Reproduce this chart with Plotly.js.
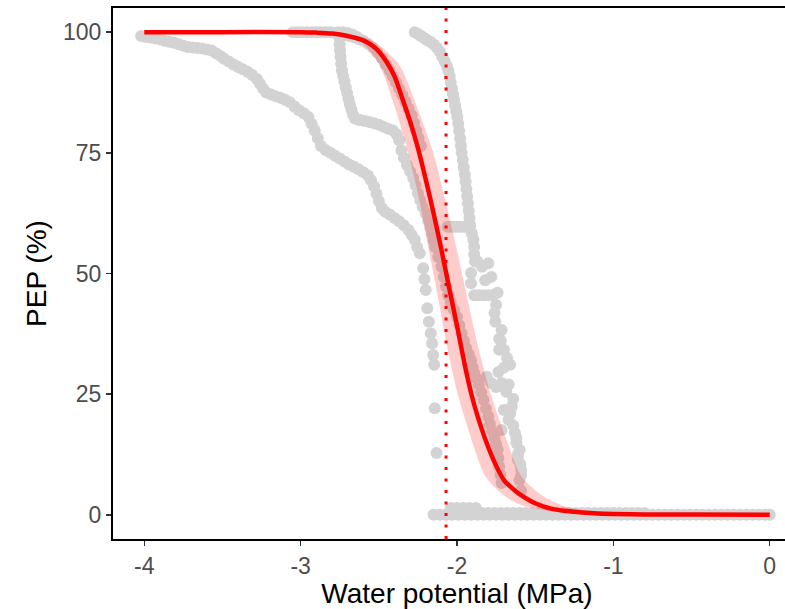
<!DOCTYPE html>
<html>
<head>
<meta charset="utf-8">
<script src="https://cdn.plot.ly/plotly-3.0.1.min.js"></script>
<style>
html,body{margin:0;padding:0;overflow:hidden;background:#fff;}
#chart{width:808px;height:609px;}
</style>
</head>
<body>
<div id="chart"></div>
<script>
// ---- axis ticks ----
const xTickVals = [-4, -3, -2, -1, 0];
const xTickText = ['-4', '-3', '-2', '-1', '0'];
const yTickVals = [0, 25, 50, 75, 100];
const yTickText = ['0', '25', '50', '75', '100'];

// ---- observed points (grey) ----
const aX = [-4.02,-3.99,-3.96,-3.93,-3.90,-3.87,-3.84,-3.81,-3.78,-3.75,-3.72,-3.69,-3.66,-3.63,-3.60,-3.57,-3.54,-3.51,-3.49,-3.46,-3.43,-3.40,-3.37,-3.34,-3.31,-3.28,-3.26,-3.24,-3.22,-3.19,-3.16,-3.13,-3.10,-3.07,-3.04,-3.01,-2.98,-2.95,-2.93,-2.91,-2.89,-2.87,-2.84,-2.81,-2.78,-2.75,-2.72,-2.69,-2.66,-2.63,-2.60,-2.57,-2.55,-2.53,-2.515,-2.50,-2.48,-2.46,-2.43,-2.40,-2.37,-2.34,-2.31,-2.29,-2.27,-2.255,-2.238,-2.216,-2.208,-2.20,-2.19,-2.18,-2.168,-2.159,-2.152,-2.146,-2.142,-2.131];
const aY = [99.2,99.0,98.9,98.7,98.5,98.2,98.0,97.8,97.5,97.2,96.9,96.8,96.7,96.6,96.4,96.2,95.6,95.0,94.5,93.9,93.3,92.8,92.3,91.8,91.1,90.3,89.3,88.3,87.5,87.1,86.7,86.4,86.0,85.5,84.6,83.8,83.2,82.4,81.0,79.6,78.0,76.4,75.6,75.0,74.4,73.8,73.2,72.6,72.1,71.6,71.0,70.3,69.3,68.0,66.5,65.0,63.5,62.8,62.2,61.5,60.8,60.0,59.0,58.0,57.0,55.5,54.2,51.1,48.8,46.6,42.8,40.0,37.6,35.5,33.1,31.1,22.1,12.8];

const bX = [-2.76,-2.73,-2.70,-2.67,-2.64,-2.752,-2.75,-2.748,-2.745,-2.741,-2.736,-2.728,-2.72,-2.712,-2.703,-2.694,-2.685,-2.675,-2.665,-2.652,-2.636,-2.62,-2.59,-2.56,-2.53,-2.50,-2.47,-2.44,-2.41,-2.385,-2.37,-2.355,-2.34,-2.32,-2.30,-2.28,-2.265,-2.25,-2.235,-2.22,-2.20,-2.185,-2.17,-2.16,-2.15,-2.14,-2.12,-2.10,-2.085,-2.07,-2.056,-2.04,-2.02,-2.00,-1.985,-1.97,-1.955,-1.94,-1.925,-1.91,-1.90,-1.89,-1.875,-1.86,-1.845,-1.83,-1.815,-1.80,-1.79,-1.775,-1.76,-1.75,-1.74,-1.735,-1.73,-1.722,-1.715];
const bY = [100,100,99.8,99.5,99.0,98.8,97.5,96.2,94.9,93.5,92.1,90.9,89.8,88.6,87.4,86.2,85.0,83.9,82.9,82.1,81.9,81.8,81.6,81.4,81.1,80.8,80.4,80.0,79.6,78.8,77.6,75.5,74.0,72.5,71.2,69.8,68.3,66.6,65.2,63.8,62.4,61.0,59.6,58.3,56.9,55.5,53.4,51.4,49.3,47.3,45.5,44.0,42.5,41.0,39.3,37.6,36.0,34.5,33.2,32.0,30.6,29.4,28.2,27.0,25.4,23.8,22.0,20.4,18.8,17.3,16.0,14.7,13.5,11.8,10.0,8.3,6.6];

const cX = [-2.27,-2.25,-2.23,-2.21,-2.19,-2.17,-2.15,-2.13,-2.11,-2.095,-2.08,-2.065,-2.055,-2.047,-2.04,-2.033,-2.026,-2.019,-2.012,-2.005,-1.998,-1.992,-1.986,-1.98,-1.975,-1.97,-1.963,-1.957,-1.95,-1.945,-1.94,-1.935,-1.93,-1.925,-1.92,-1.915,
  -2.06,-2.04,-2.02,-2.00,-1.98,-1.96,-1.94,
  -1.905,-1.895,-1.89,-1.89,-1.885,-1.91,-1.91,-1.87,-1.84,-1.82,-1.80,-1.78,-1.89,-1.86,-1.83,-1.80,-1.77,-1.74,-1.76,-1.75,-1.715,-1.73,-1.73,-1.70,-1.66,-1.735,-1.715,-1.685,-1.81,-1.78,-1.75,-1.70,-1.65,-1.67,-1.715,-1.63,-1.62,-1.60,-1.61,-1.59,-1.60,-1.59,
  -1.755,-1.72,-1.68,-1.70,-1.67,-1.64,-1.66,-1.64,-1.62,-1.61,-1.595,-1.59];
const cY = [100,99.6,99.2,98.8,98.3,98.0,97.5,96.8,96.0,95.0,94.0,93.0,92.0,90.8,89.6,88.4,87.2,86.0,84.8,83.6,82.4,81.0,79.5,78.0,76.5,75.0,73.5,72.0,70.5,69.0,67.5,66.0,64.5,63.0,61.5,60.0,
  59.7,59.7,59.7,59.7,59.7,59.7,59.7,
  58.3,57.0,55.5,54.0,52.5,50.1,48.0,52.5,51.4,48.6,52.1,49.3,45.5,45.5,45.5,45.5,45.5,46.0,41.8,43.5,38.3,36.5,34.2,34.2,31.1,29.6,27.3,25.5,28.6,27.3,26.5,21.7,22.4,19.7,17.6,17.0,14.9,13.5,11.4,9.3,7.2,5.0,
  40.0,36.0,32.5,30.5,27.0,24.0,21.0,18.5,16.0,12.5,10.5,8.2];

const dX = [-3.05,-3.02,-2.99,-2.96,-2.93,-2.90,-2.87,-2.84,-2.81,-2.78,-2.75,-2.72,-2.69,-2.66,-2.63,-2.60,-2.57,-2.54,-2.51,-2.48,-2.455,-2.43,-2.41,-2.39,-2.37,-2.35,-2.33,-2.31,-2.29,-2.275,-2.26,-2.245,-2.23];
const dY = [100,100,100,100,100,100,100,100,100,99.8,99.6,99.4,99.2,99.0,98.6,98.2,97.6,96.8,95.8,94.6,93.3,92.0,90.8,89.6,88.3,87.0,85.6,84.2,82.8,81.2,79.6,78.0,76.4];

const floorX = [-2.15,-2.11,-2.07,-2.03,-1.99,-1.95,-1.91,-1.87,-1.83,-1.79,-1.75,-1.71,-1.67,-1.63,-1.59,-1.55,-1.51,-1.47,-1.43,-1.39,-1.35,-1.31,-1.27,-1.23,-1.19,-1.15,-1.11,-1.07,-1.03,-0.99,-0.95,-0.91,-0.87,-0.83,-0.79,-0.75,-0.71,-0.67,-0.63,-0.59,-0.55,-0.51,-0.47,-0.43,-0.39,-0.35,-0.31,-0.27,-0.23,-0.19,-0.15,-0.11,-0.07,-0.03,0.0,
  -2.04,-2.00,-1.96,-1.92,-1.88,
  -1.84,-1.80,-1.76,-1.72,-1.68,-1.64,-1.60,-1.56,-1.52,-1.48,-1.44,-1.40,-1.36,-1.32,-1.28,-1.24,-1.20,-1.16,-1.12,-1.08,-1.04,-1.00,-0.96,-0.92,-0.88,-0.84,-0.80];
const floorY = [0,0,0,0,0,0,0,0,0,0,0,0,0,0,0,0,0,0,0,0,0,0,0,0,0,0,0,0,0,0,0,0,0,0,0,0,0,0,0,0,0,0,0,0,0,0,0,0,0,0,0,0,0,0,0,
  1.4,1.4,1.4,1.4,1.4,
  0.4,0.4,0.4,0.4,0.4,0.4,0.4,0.4,0.4,0.4,0.4,0.4,0.4,0.4,0.4,0.4,0.4,0.4,0.4,0.4,0.4,0.4,0.4,0.4,0.4,0.4,0.4];

// ---- fitted curve ----
const fitX = [-4,-3.5,-3.0,-2.9,-2.8,-2.7,-2.6,-2.55,-2.5,-2.45,-2.4,-2.35,-2.3,-2.25,-2.2,-2.15,-2.1,-2.05,-2.0,-1.95,-1.9,-1.85,-1.8,-1.75,-1.7,-1.65,-1.6,-1.5,-1.4,-1.3,-1.2,-1.1,-1.0,-0.8,-0.5,0];
const fitY = [100,100,100,99.9,99.7,99.2,98.3,97.4,96.0,93.8,90.9,86.3,81.5,76.0,69.5,62.5,55.0,47.0,39.2,31.0,24.0,18.6,14.0,10.2,7.2,5.6,4.3,2.4,1.3,0.8,0.5,0.3,0.2,0.1,0.05,0];

// ---- confidence band edges ----
const bandHiX = [-3.0,-2.595,-2.487,-2.365,-2.262,-2.152,-2.074,-2.002,-1.935,-1.866,-1.784,-1.677,-1.588,-1.456,-1.329,-1.2,-1.0,-0.8,0];
const bandHiY = [100,99,97,93,85,75,65,55,45,35,25,15,8,4,2,1,0.3,0.05,0];
const bandLoX = [-3.0,-2.659,-2.583,-2.493,-2.403,-2.312,-2.24,-2.181,-2.121,-2.064,-1.995,-1.901,-1.819,-1.699,-1.585,-1.45,-1.25,-1.0,0];
const bandLoY = [100,99,97,93,85,75,65,55,45,35,25,15,8,4,2,1,0.3,0.05,0];

const p50 = -2.07;

const grey = '#D3D3D3';
const ptSize = 12;
function pts(x, y) {
  return {x: x, y: y, type: 'scatter', mode: 'markers', hoverinfo: 'skip',
    marker: {color: grey, size: ptSize, line: {width: 0}}, showlegend: false};
}

const polyX = bandHiX.concat(bandLoX.slice().reverse());
const polyY = bandHiY.concat(bandLoY.slice().reverse());

const traces = [
  pts(floorX, floorY),
  pts(aX, aY),
  pts(dX, dY),
  pts(bX, bY),
  pts(cX, cY),
  {x: polyX, y: polyY, type: 'scatter', mode: 'lines', fill: 'toself',
   fillcolor: 'rgba(255,0,0,0.2)', line: {width: 0, shape: 'spline', smoothing: 0.8}, showlegend: false, hoverinfo: 'skip'},
  {x: fitX, y: fitY, type: 'scatter', mode: 'lines',
   line: {color: '#FF0000', width: 4.5, shape: 'spline', smoothing: 0.8}, showlegend: false, hoverinfo: 'skip'}
];

const fontFam = '"Liberation Sans", Arial, "DejaVu Sans", sans-serif';

const layout = {
  width: 808, height: 609,
  margin: {l: 113, r: 7, t: 8, b: 70},
  paper_bgcolor: '#ffffff', plot_bgcolor: '#ffffff',
  font: {family: fontFam},
  showlegend: false,
  xaxis: {
    range: [-4.2, 0.2], showgrid: false, zeroline: false,
    showline: true, linecolor: '#000000', linewidth: 2, mirror: true,
    ticks: 'outside', ticklen: 5, tickwidth: 1.5, tickcolor: '#333333',
    tickvals: xTickVals, ticktext: xTickText,
    tickfont: {family: fontFam, size: 23, color: '#4D4D4D'},
    title: {text: 'Water potential (MPa)', font: {family: fontFam, size: 28, color: '#000000'}, standoff: 4}
  },
  yaxis: {
    range: [-5, 105], showgrid: false, zeroline: false,
    showline: true, linecolor: '#000000', linewidth: 2,
    ticks: 'outside', ticklen: 5, tickwidth: 1.5, tickcolor: '#333333',
    tickvals: yTickVals, ticktext: yTickText,
    tickfont: {family: fontFam, size: 23, color: '#4D4D4D'},
    title: {text: 'PEP (%)', font: {family: fontFam, size: 28, color: '#000000'}, standoff: 8}
  },
  shapes: [{
    type: 'line', xref: 'x', yref: 'paper', x0: p50, x1: p50, y0: 0, y1: 1,
    line: {color: '#FF0000', width: 3, dash: '3px,8.5px'}
  }]
};

Plotly.newPlot('chart', traces, layout, {staticPlot: true, displayModeBar: false});
</script>
</body>
</html>
